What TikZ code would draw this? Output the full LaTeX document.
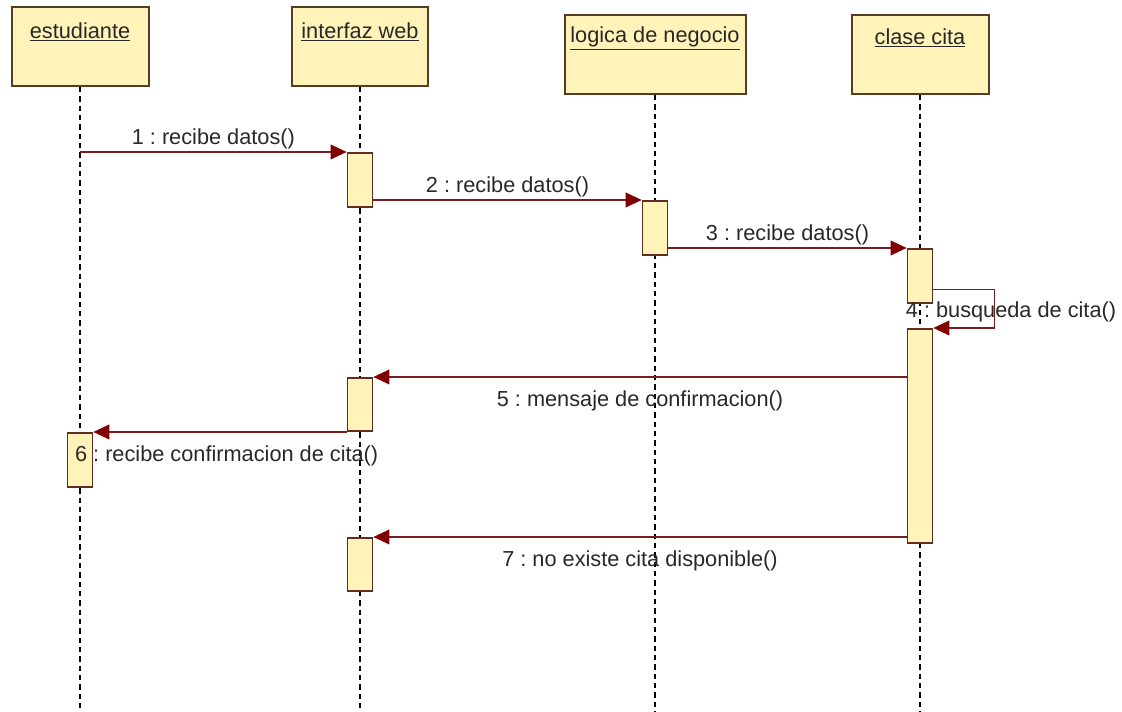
\documentclass[tikz,border=0pt]{standalone}
\usepackage{fontspec}
\setmainfont{Liberation Sans}
\usetikzlibrary{arrows.meta,positioning,calc}
\definecolor{boxfill}{RGB}{255,243,186}
\definecolor{boxline}{RGB}{85,60,35}
\definecolor{actline}{RGB}{100,45,30}
\definecolor{msgline}{RGB}{120,30,30}
\definecolor{msghead}{RGB}{128,0,0}
\definecolor{txt}{RGB}{40,40,40}
\frenchspacing

\begin{document}
\begin{tikzpicture}[x=0.75pt,y=0.75pt,yscale=-1,xscale=1,
  font=\fontsize{16.3}{19}\selectfont,
  head/.style={draw=boxline,fill=boxfill,line width=1.5pt,minimum height=59.25pt,inner sep=0pt},
  headtxt/.style={text=txt,inner sep=0pt},
  act/.style={draw=actline,fill=boxfill,line width=1.2pt,minimum width=18.75pt,inner sep=0pt,anchor=north},
  life/.style={draw=black,line width=1pt,dash pattern=on 4pt off 3pt},
  msg/.style={draw=msgline,line width=1pt,-{Triangle[length=12pt,width=11pt,color=msghead]}},
  msglbl/.style={text=txt,inner sep=2pt}
]
\useasboundingbox (0,0) rectangle (1122,712);
\coordinate (bottom) at (0,712);

%Shape: Rectangle (lifeline heads)
\node[head,minimum width=102.75pt] (est) at (80,46.5) {};
\node[head,minimum width=102pt] (int) at (360,46.5) {};
\node[head,minimum width=135.75pt] (log) at (655,54.5) {};
\node[head,minimum width=102.75pt] (cla) at (920,54.5) {};

% Text Node
\node[headtxt,below=12pt of est.north] (estT) {\underline{estudiante}};
\node[headtxt,below=12pt of int.north] (intT) {\underline{interfaz web}};
\node[headtxt,below=9.5pt of log.north] (logT) {\underline{logica de negocio}};
\node[headtxt,below=10.5pt of cla.north] (claT) {\underline{clase cita}};

%Dashed Lines
\foreach \n in {est,int,log,cla}
  \draw[life] (\n.south) -- (\n.south |- bottom);

%Shape: Rectangle (activations)
\node[act,minimum height=40.5pt] (actI1) at (360,152) {};
\node[act,minimum height=40.5pt] (actL1) at (655,200) {};
\node[act,minimum height=40.5pt] (actC1) at (920,248) {};
\node[act,minimum height=160.5pt] (actC2) at (920,328) {};
\node[act,minimum height=39.75pt] (actI2) at (360,377) {};
\node[act,minimum height=40.5pt] (actE1) at (80,432) {};
\node[act,minimum height=39.75pt] (actI3) at (360,537) {};

%Straight Lines
\draw[msg] (actI1.north west -| est) -- node[msglbl,above] (m1) {1 : recibe datos()} (actI1.north west);
\draw[msg] (actI1.east |- actL1.north west) -- node[msglbl,above] (m2) {2 : recibe datos()} (actL1.north west);
\draw[msg] (actL1.east |- actC1.north west) -- node[msglbl,above] (m3) {3 : recibe datos()} (actC1.north west);
\draw[msg] ($(actC1.south east)+(0,-14)$) -- ++(61,0) |- (actC2.north east);
\draw[msg] (actC2.west |- actI2.north east) -- node[msglbl,below=8pt] (m5) {5 : mensaje de confirmacion()} (actI2.north east);
\draw[msg] (actI2.south west |- actE1.north east) -- node[msglbl,below=8pt,xshift=5pt] (m6) {6 : recibe confirmacion de cita()} (actE1.north east);
\draw[msg] (actC2.west |- actI3.north east) -- node[msglbl,below=8pt] (m7) {7 : no existe cita disponible()} (actI3.north east);

% Text Node
\node[msglbl] (m4) at (1011,312) {4 : busqueda de cita()};

\end{tikzpicture}
\end{document}
